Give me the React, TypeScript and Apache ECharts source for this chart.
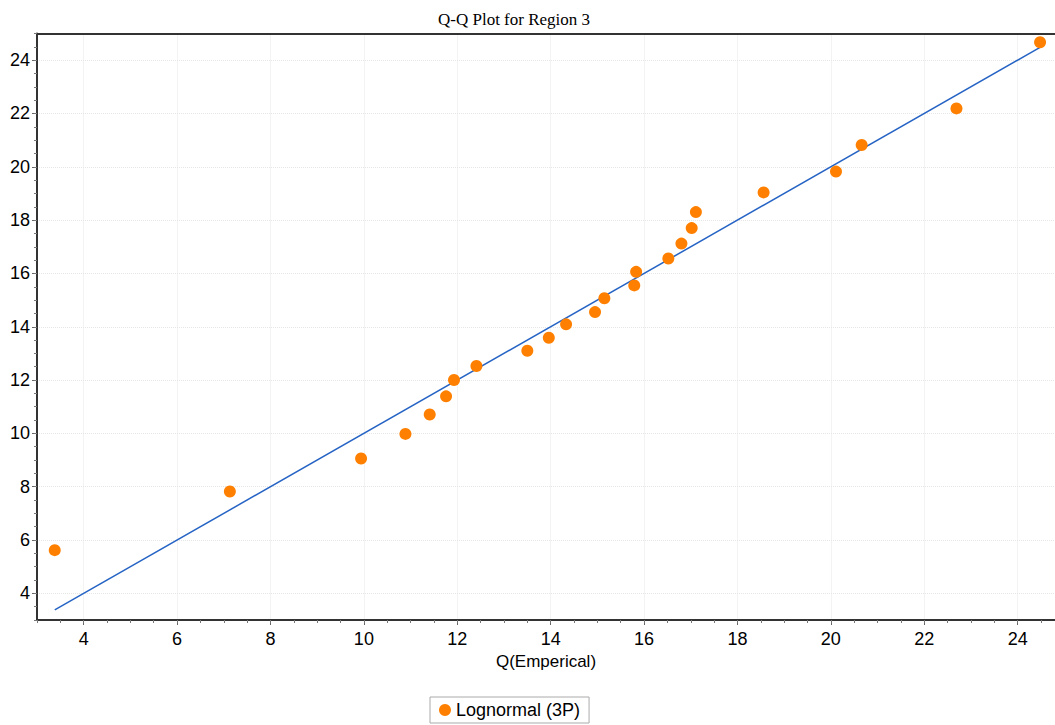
import React, { useEffect, useRef } from "react";
import * as echarts from "echarts";

// Empirical quantiles (x) and fitted Lognormal (3P) quantiles (y)
const empirical = [
  3.38, 7.13, 9.94, 10.89, 11.41, 11.76, 11.93, 12.41, 13.5, 13.96, 14.33, 14.95,
  15.15, 15.79, 15.83, 16.52, 16.8, 17.02, 17.11, 18.56, 20.11, 20.66, 22.69, 24.48,
];
const theoretical = [
  5.62, 7.82, 9.06, 9.98, 10.71, 11.39, 12.0, 12.53, 13.1, 13.59, 14.09, 14.55,
  15.07, 15.55, 16.06, 16.56, 17.12, 17.7, 18.3, 19.04, 19.82, 20.82, 22.19, 24.67,
];

const xTicks = [4, 6, 8, 10, 12, 14, 16, 18, 20, 22, 24];
const yTicks = [4, 6, 8, 10, 12, 14, 16, 18, 20, 22, 24];

const seriesName = "Lognormal (3P)";
const titleText = "Q-Q Plot for Region 3";
const xName = "Q(Emperical)";

const X_MIN = 3;
const X_MAX = 24.8;
const Y_MIN = 3;
const Y_MAX = 25;

const SANS = "'Liberation Sans', Arial, sans-serif";
const SERIF = "'Liberation Serif', 'Times New Roman', serif";

export default function App() {
  const ref = useRef<HTMLDivElement>(null);

  useEffect(() => {
    document.body.style.margin = "0";
    if (!ref.current) return;
    const chart = echarts.init(ref.current, null, { renderer: "svg" });

    const points = empirical.map((x, i) => [x, theoretical[i]]);
    const lo = Math.min(...empirical);
    const hi = Math.max(...empirical);
    const refLine = [
      [lo, lo],
      [hi, hi],
    ];

    const gridLine = { show: true, lineStyle: { color: "#e6e6e6", type: "dotted" as const, width: 1 } };
    const axisLineStyle = { color: "#333", width: 2 };

    chart.setOption({
      animation: false,
      backgroundColor: "#fff",
      title: {
        text: titleText,
        left: 433,
        top: 6,
        textStyle: { fontFamily: SERIF, fontSize: 17, fontWeight: "normal", color: "#000" },
      },
      legend: {
        data: [seriesName],
        left: 430,
        top: 697,
        icon: "circle",
        itemWidth: 12,
        itemHeight: 12,
        padding: [4, 9],
        borderColor: "#aaa",
        borderWidth: 1,
        textStyle: { fontFamily: SANS, fontSize: 18, color: "#000" },
      },
      grid: { left: 37, right: 0, top: 33.5, bottom: 105, containLabel: false },
      xAxis: [
        {
          type: "value",
          position: "bottom",
          min: X_MIN,
          max: X_MAX,
          name: xName,
          nameLocation: "middle",
          nameGap: 32,
          nameTextStyle: { fontFamily: SANS, fontSize: 17, color: "#000" },
          axisLine: { show: true, onZero: false, lineStyle: axisLineStyle },
          axisTick: { show: true, length: 5, customValues: xTicks, lineStyle: { color: "#666" } },
          axisLabel: { customValues: xTicks, margin: 10, fontFamily: SANS, fontSize: 18, color: "#000" },
          splitLine: gridLine,
        },
        {
          // minor ticks every 0.5
          type: "value",
          position: "bottom",
          min: X_MIN,
          max: X_MAX,
          interval: 0.5,
          axisLine: { show: false },
          axisTick: { show: true, length: 3, lineStyle: { color: "#777" } },
          axisLabel: { show: false },
          splitLine: { show: false },
        },
        {
          // top frame line
          type: "value",
          position: "top",
          min: X_MIN,
          max: X_MAX,
          axisLine: { show: true, onZero: false, lineStyle: axisLineStyle },
          axisTick: { show: false },
          axisLabel: { show: false },
          splitLine: { show: false },
        },
      ],
      yAxis: [
        {
          type: "value",
          position: "left",
          min: Y_MIN,
          max: Y_MAX,
          axisLine: { show: true, onZero: false, lineStyle: axisLineStyle },
          axisTick: { show: true, length: 5, customValues: yTicks, lineStyle: { color: "#666" } },
          axisLabel: { customValues: yTicks, margin: 7, fontFamily: SANS, fontSize: 18, color: "#000" },
          splitLine: gridLine,
        },
        {
          type: "value",
          position: "left",
          min: Y_MIN,
          max: Y_MAX,
          interval: 0.5,
          axisLine: { show: false },
          axisTick: { show: true, length: 3, lineStyle: { color: "#777" } },
          axisLabel: { show: false },
          splitLine: { show: false },
        },
      ],
      series: [
        {
          name: "reference",
          type: "line",
          xAxisIndex: 0,
          yAxisIndex: 0,
          data: refLine,
          showSymbol: false,
          symbol: "none",
          lineStyle: { color: "#2563c4", width: 1.5 },
          z: 2,
        },
        {
          name: seriesName,
          type: "scatter",
          xAxisIndex: 0,
          yAxisIndex: 0,
          data: points,
          symbol: "circle",
          symbolSize: 12,
          itemStyle: { color: "#ff8000", opacity: 1 },
          z: 3,
        },
      ],
    });

    return () => chart.dispose();
  }, []);

  return <div ref={ref} style={{ width: 1055, height: 725 }} />;
}
